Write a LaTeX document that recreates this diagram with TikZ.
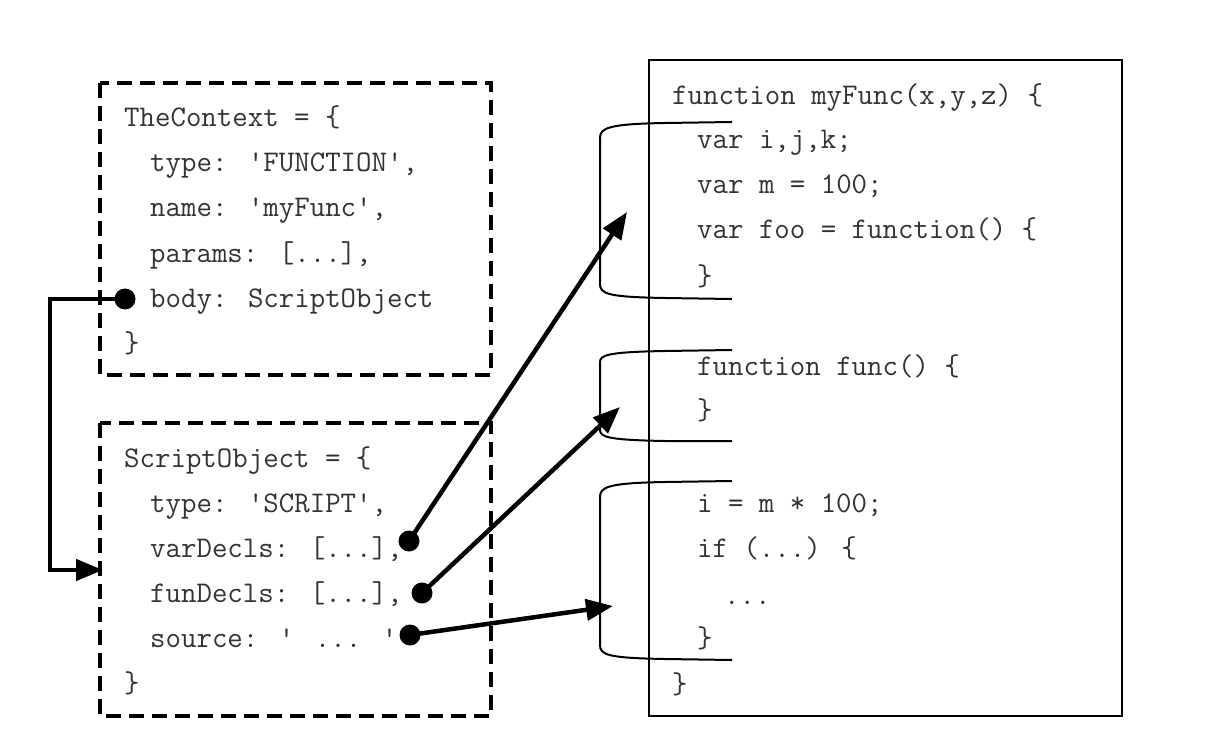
\documentclass[tikz,border=0pt]{standalone}
\usetikzlibrary{arrows.meta}
\begin{document}
\begin{tikzpicture}[x=1pt,y=-1pt,
  code/.style={anchor=base west,inner sep=0pt,font=\ttfamily\fontsize{30}{34}\selectfont,text=black!80},
  dbox/.style={draw=black,line width=4.5pt,dash pattern=on 15pt off 8pt},
  sbox/.style={draw=black,line width=2pt},
  brk/.style={draw=black,line width=2pt},
  conn/.style={draw=black,line width=4.5pt,-{Triangle[length=27pt,width=21pt]}},
  dotn/.style={circle,fill=black,inner sep=0pt,minimum size=21pt}]
\useasboundingbox (0,0) rectangle (1218,738);
% boxes
\draw[dbox] (100,83) rectangle (491,375);
\draw[dbox] (100,423) rectangle (491,716);
\draw[sbox] (649,60) rectangle (1122,716);
% top box text
\node[code] (c1) at (124,127) {TheContext = \{};
\node[code] (c2) at (150,172) {type: 'FUNCTION',};
\node[code] (c3) at (150,217) {name: 'myFunc',};
\node[code] (c4) at (150,262) {params: [...],};
\node[code] (c5) at (150,307) {body: ScriptObject};
\node[code] (c6) at (124,352) {\}};
% bottom box text
\node[code] (s1) at (124,467) {ScriptObject = \{};
\node[code] (s2) at (150,512) {type: 'SCRIPT',};
\node[code] (s3) at (150,557) {varDecls: [...],};
\node[code] (s4) at (150,602) {funDecls: [...],};
\node[code] (s5) at (150,647) {source: ' ... '};
\node[code] (s6) at (124,692) {\}};
% right box text
\node[code] (f1) at (672,105) {function myFunc(x,y,z) \{};
\node[code] (f2) at (697,149) {var i,j,k;};
\node[code] (f3) at (697,194) {var m = 100;};
\node[code] (f4) at (697,239) {var foo = function() \{};
\node[code] (f5) at (697,285) {\}};
\node[code] (f6) at (697,375) {function func() \{};
\node[code] (f7) at (697,419) {\}};
\node[code] (f8) at (697,512) {i = m * 100;};
\node[code] (f9) at (697,557) {if (...) \{};
\node[code] (f10) at (724,604) {...};
\node[code] (f11) at (697,647) {\}};
\node[code] (f12) at (672,693) {\}};
% brackets
\draw[brk] (732,122) -- (665,123) .. controls (608,124) and (600,128) .. (600,138)
  -- (600,284) .. controls (600,294) and (608,297) .. (665,298) -- (732,299);
\draw[brk] (732,350) -- (665,351) .. controls (608,352) and (600,355) .. (600,362)
  -- (600,430) .. controls (600,437) and (608,440) .. (665,441) -- (732,441);
\draw[brk] (732,481) -- (665,482) .. controls (608,483) and (600,487) .. (600,497)
  -- (600,645) .. controls (600,655) and (608,658) .. (665,659) -- (732,660);
% dots
\node[dotn] (d0) at (125,299) {};
\node[dotn] (d1) at (409,541) {};
\node[dotn] (d2) at (422,593) {};
\node[dotn] (d3) at (410,635) {};
% targets
\coordinate (t1) at (627,212);
\coordinate (t2) at (620,407);
\coordinate (t3) at (613,606);
\coordinate (in0) at (103,570);
\coordinate (elb) at (50,0);
% connectors
\draw[conn] (d1.center) -- (t1);
\draw[conn] (d2.center) -- (t2);
\draw[conn] (d3.center) -- (t3);
\draw[conn] (d0.center) -- (d0.center -| elb) -- (elb |- in0) -- (in0);
\end{tikzpicture}
\end{document}
